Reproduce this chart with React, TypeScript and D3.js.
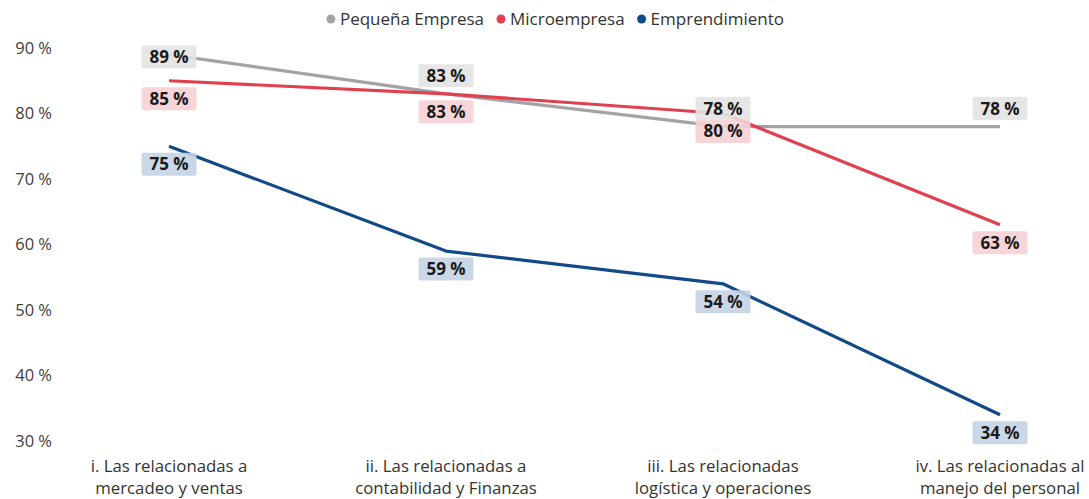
import React from "react";
import * as d3 from "d3";

const categories = [
  ["i. Las relacionadas a", "mercadeo y ventas"],
  ["ii. Las relacionadas a", "contabilidad y Finanzas"],
  ["iii. Las relacionadas", "logística y operaciones"],
  ["iv. Las relacionadas al", "manejo del personal"],
];
const pequena = [89, 83, 78, 78];
const micro = [85, 83, 80, 63];
const empr = [75, 59, 54, 34];
const yTicks = [30, 40, 50, 60, 70, 80, 90];

const series = [
  { name: "Pequeña Empresa", values: pequena, color: "#a3a3a3", box: "#e3e3e3", pos: "above" },
  { name: "Microempresa", values: micro, color: "#e0404f", box: "#f6d0d4", pos: "below" },
  { name: "Emprendimiento", values: empr, color: "#124a87", box: "#c4d3e4", pos: "below" },
];

const W = 1089;
const H = 499;
const FONT = "'Open Sans', 'Noto Sans', sans-serif";

function measure(text: string, font: string): number {
  if (typeof document === "undefined") return text.length * 8;
  const c = document.createElement("canvas");
  const ctx = c.getContext("2d");
  if (!ctx) return text.length * 8;
  ctx.font = font;
  return ctx.measureText(text).width;
}

export default function App() {
  const x = d3.scalePoint<number>().domain([0, 1, 2, 3]).range([169, 1000]);
  const y = d3.scaleLinear().domain([30, 90]).range([441, 48]);
  const line = d3
    .line<number>()
    .x((_, i) => x(i) as number)
    .y((d) => y(d));

  // legend layout: sequential, centered
  const legFont = `17px 'Open Sans'`;
  const dotW = 10;
  const dotGap = 4;
  const itemGap = 12;
  const widths = series.map((s) => measure(s.name, legFont));
  const total =
    widths.reduce((a, b) => a + b, 0) + series.length * (dotW + dotGap) + (series.length - 1) * itemGap;
  let cursor = 555 - total / 2;
  const legendPos = widths.map((w) => {
    const p = cursor;
    cursor += dotW + dotGap + w + itemGap;
    return p;
  });

  return (
    <svg
      width={W}
      height={H}
      style={{ position: "absolute", left: 0, top: 0, background: "#fff" }}
      fontFamily={FONT}
    >
      {/* legend */}
      {series.map((s, i) => (
        <g key={s.name} transform={`translate(${legendPos[i]},19)`}>
          <circle cx={dotW / 2} r={4.5} fill={s.color} />
          <text x={dotW + dotGap} dy="0.35em" fontSize={17} fill="#333">
            {s.name}
          </text>
        </g>
      ))}
      {/* y axis labels */}
      {yTicks.map((t) => (
        <text
          key={t}
          x={52}
          y={y(t)}
          dy="0.35em"
          textAnchor="end"
          fontSize={16.5}
          fill="#404040"
        >
          {`${t} %`}
        </text>
      ))}
      {/* x axis labels */}
      {categories.map((c, i) => (
        <text key={i} x={x(i)} y={466} textAnchor="middle" fontSize={16.8} fill="#333">
          <tspan x={x(i)} dy="0.35em">{c[0]}</tspan>
          <tspan x={x(i)} dy="22">{c[1]}</tspan>
        </text>
      ))}
      {/* lines */}
      {series.map((s) => (
        <path
          key={s.name}
          d={line(s.values) || ""}
          fill="none"
          stroke={s.color}
          strokeWidth={3.2}
          strokeLinejoin="round"
        />
      ))}
      {/* labels */}
      {series.map((s) =>
        s.values.map((v, i) => {
          let cy = s.pos === "above" ? y(v) - 18 : y(v) + 18;
          cy = Math.max(cy, 57);
          const cx = x(i) as number;
          return (
            <g key={s.name + i} transform={`translate(${cx},${cy})`}>
              <rect x={-27.5} y={-11.5} width={55} height={23} rx={2} fill={s.box} opacity={0.9} />
              <text
                textAnchor="middle"
                dy="0.35em"
                fontSize={17}
                fontWeight="bold"
                fill="#1a1a1a"
              >
                {`${v} %`}
              </text>
            </g>
          );
        })
      )}
    </svg>
  );
}
